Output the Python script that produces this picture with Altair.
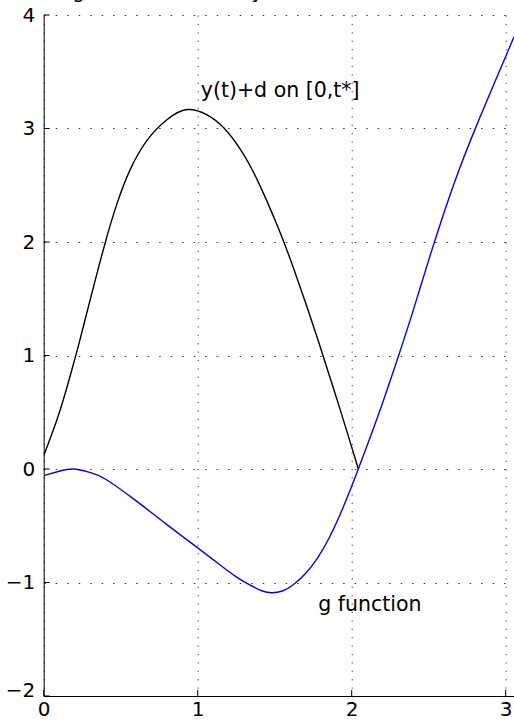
import altair as alt
import pandas as pd

# y(t)+d on [0, t*]
black_t = [0, 0.087, 0.152, 0.212, 0.26, 0.325, 0.40, 0.476, 0.563, 0.671, 0.80,
           0.931, 1.061, 1.169, 1.277, 1.385, 1.526, 1.623, 1.71, 1.797, 1.883,
           1.97, 2.043]
black_v = [0.117, 0.439, 0.725, 1.019, 1.269, 1.613, 1.996, 2.338, 2.642, 2.896,
           3.077, 3.167, 3.12, 3.006, 2.817, 2.552, 2.115, 1.766, 1.427, 1.07,
           0.705, 0.327, 0.0]

# g function
blue_t = [0, 0.1, 0.195, 0.3, 0.4, 0.59, 0.8, 1.015, 1.15, 1.25, 1.35, 1.42, 1.48,
          1.55, 1.62, 1.70, 1.78, 1.86, 1.95, 2.043, 2.12, 2.2, 2.3, 2.4, 2.5,
          2.6, 2.7, 2.8, 2.9, 3.0, 3.054]
blue_v = [-0.059, -0.02, 0.0, -0.03, -0.088, -0.27, -0.49, -0.71, -0.85, -0.95,
          -1.03, -1.075, -1.09, -1.075, -1.02, -0.92, -0.78, -0.59, -0.32, 0.0,
          0.28, 0.58, 0.98, 1.40, 1.84, 2.26, 2.645, 2.99, 3.315, 3.635, 3.808]

label_text = ["y(t)+d on [0,t*]", "g function"]
label_t = [1.02, 1.783]
label_v = [3.274, -1.252]

x_ticks = [0, 1, 2, 3]
y_ticks = [-2, -1, 0, 1, 2, 3, 4]
title_text = "The g function versus y"

FONT = "DejaVu Sans"
X_MAX = 3.054
W = 470.3
H = 681

xs = alt.Scale(domain=[0, X_MAX], nice=False, zero=False)
ys = alt.Scale(domain=[-2, 4], nice=False, zero=False)

x_axis = alt.Axis(values=x_ticks, format="d", title=None, grid=True,
                  gridColor="#333333", gridDash=[1.2, 7.2], gridWidth=1,
                  ticks=False, labelPadding=3, labelFont=FONT, labelFontSize=20,
                  labelColor="black", domainColor="black", domainWidth=1,
                  labelFlush=False)
y_axis = alt.Axis(values=y_ticks, format="d", title=None, grid=True,
                  gridColor="#333333", gridDash=[1.5, 10], gridWidth=1,
                  ticks=False, labelPadding=9, labelFont=FONT, labelFontSize=20,
                  labelColor="black", domainColor="black", domainWidth=1,
                  labelBaseline={"condition": {"test": "datum.value == -2",
                                               "value": "alphabetic"},
                                 "value": "middle"})

df_black = pd.DataFrame({"t": black_t, "v": black_v})
df_blue = pd.DataFrame({"t": blue_t, "v": blue_v})
df_lab = pd.DataFrame({"text": label_text, "t": label_t, "v": label_v})
df_xt = pd.DataFrame({"t": x_ticks})
df_yt = pd.DataFrame({"v": y_ticks})
df_title = pd.DataFrame({"text": [title_text]})

black = alt.Chart(df_black).mark_line(color="black", strokeWidth=1.4,
                                      interpolate="natural", clip=True).encode(
    x=alt.X("t:Q", scale=xs, axis=x_axis),
    y=alt.Y("v:Q", scale=ys, axis=y_axis),
)

blue = alt.Chart(df_blue).mark_line(color="#0000ff", strokeWidth=1.4,
                                    interpolate="natural", clip=True).encode(
    x=alt.X("t:Q", scale=xs),
    y=alt.Y("v:Q", scale=ys),
)

labels = alt.Chart(df_lab).mark_text(align="left", baseline="alphabetic",
                                     font=FONT, fontSize=20.5, color="black").encode(
    x=alt.X("t:Q", scale=xs),
    y=alt.Y("v:Q", scale=ys),
    text="text:N",
)

# inward tick marks on the left and bottom axes
y_tick_marks = alt.Chart(df_yt).mark_rule(color="black", strokeWidth=1).encode(
    y=alt.Y("v:Q", scale=ys),
    x=alt.value(0),
    x2=alt.value(6),
)
x_tick_marks = alt.Chart(df_xt).mark_rule(color="black", strokeWidth=1).encode(
    x=alt.X("t:Q", scale=xs),
    y=alt.value(H),
    y2=alt.value(H - 6),
)

title = alt.Chart(df_title).mark_text(align="left", baseline="alphabetic",
                                      font=FONT, fontSize=20, color="black").encode(
    x=alt.value(-15),
    y=alt.value(-17),
    text="text:N",
)

chart = alt.layer(black, blue, labels, y_tick_marks, x_tick_marks, title).properties(
    width=W,
    height=H,
    autosize=alt.AutoSizeParams(type="none"),
    padding={"left": 43.7, "top": 15, "right": 0, "bottom": 27},
    background="white",
).configure_view(stroke="transparent")

chart.save("out.html", embed_options={"renderer": "svg", "actions": False})
